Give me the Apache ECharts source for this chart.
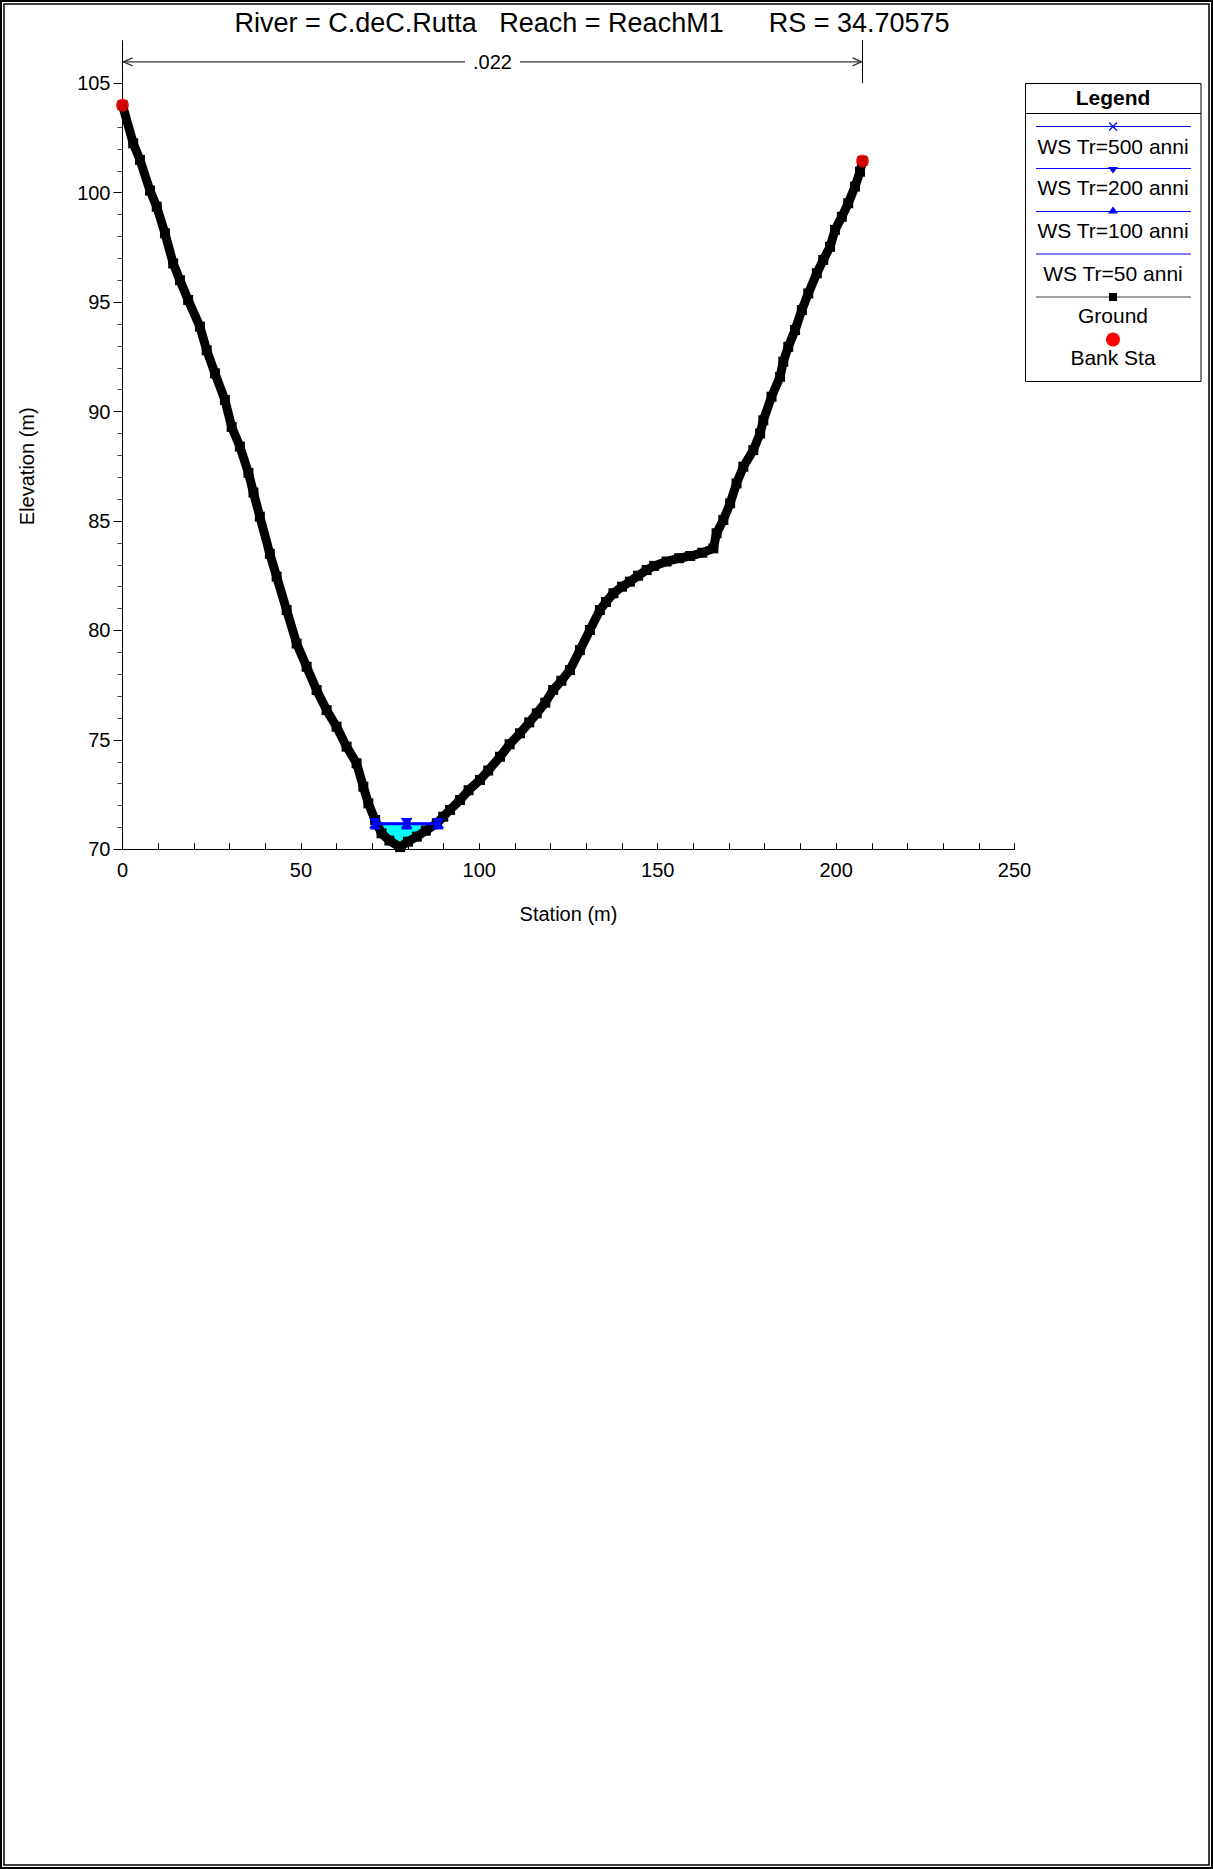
<!DOCTYPE html>
<html><head><meta charset="utf-8">
<script src="https://cdn.jsdelivr.net/npm/echarts@6/dist/echarts.min.js"></script>
<style>html,body{margin:0;padding:0;background:#fff}#c{width:1213px;height:1869px}</style>
</head><body><div id="c"></div>
<script>
// ---- data ----
const groundStation = [0,3.0,4.9,7.7,9.6,11.9,14.2,16.1,18.4,21.7,23.6,25.9,28.7,30.6,32.9,35.3,36.7,38.5,41.3,43.2,46.0,48.8,51.6,54.4,57.2,60.0,62.8,65.6,67.5,68.9,70.8,72.6,74.8,77.8,80.0,82.5,85.0,88.1,89.9,91.8,94.6,97.0,100.2,102.5,105.8,108.5,111.4,114.0,116.1,118.5,120.7,123.0,125.4,128.2,131.0,133.8,135.5,137.6,140.0,142.2,144.5,146.9,149.0,152.5,156.0,159.1,162.5,165.6,166.5,168.4,170.3,172.1,174.0,176.8,178.7,179.6,181.9,184.3,185.2,186.6,188.5,190.4,192.2,194.6,196.4,198.3,199.7,201.6,203.4,205.3,206.7,207.4];
const groundElev = [104.0,102.26,101.5,100.1,99.36,98.15,96.77,96.0,95.1,93.88,92.8,91.75,90.53,89.3,88.4,87.2,86.3,85.2,83.5,82.46,80.93,79.4,78.34,77.28,76.36,75.6,74.69,73.93,72.86,72.1,71.34,70.73,70.4,70.1,70.35,70.58,70.85,71.19,71.49,71.8,72.25,72.7,73.17,73.6,74.23,74.8,75.3,75.8,76.21,76.7,77.28,77.7,78.19,79.1,80.02,80.93,81.3,81.7,82.0,82.23,82.5,82.76,82.95,83.15,83.3,83.4,83.55,83.75,84.44,85.05,85.81,86.72,87.48,88.24,89.0,89.6,90.68,91.59,92.28,92.96,93.73,94.64,95.4,96.32,96.93,97.53,98.3,98.9,99.52,100.28,100.96,101.45];
const bankStation = [0, 207.4];
const bankElev = [104.0, 101.45];
const wsNames = ['WS Tr=500 anni','WS Tr=200 anni','WS Tr=100 anni','WS Tr=50 anni'];
const wsElev = [71.20, 71.18, 71.16, 71.13];
const wsLeft = [70.7, 70.8, 70.9, 71.0];
const wsRight = [88.6, 88.5, 88.4, 88.3];
const nValue = '.022';
const nStations = [0, 207.4];
const xTickLabels = [0, 50, 100, 150, 200, 250];
const yTickLabels = [70, 75, 80, 85, 90, 95, 100, 105];
const titleText = 'River = C.deC.Rutta   Reach = ReachM1      RS = 34.70575';

// ---- chart ----
const FONT = '"Liberation Sans", Arial, sans-serif';
const yMin = yTickLabels[0], yMax = yTickLabels[yTickLabels.length-1];
const chart = echarts.init(document.getElementById('c'), null, {renderer:'svg', width:1213, height:1869});

const crossPath = 'path://M0,1L1,0L5,4L9,0L10,1L6,5L10,9L9,10L5,6L1,10L0,9L4,5Z';
const wsSymbols = [crossPath, 'triangle', 'triangle', 'none'];
const wsRot = [0, 180, 0, 0];

const ground = groundStation.map((s,i)=>[s, groundElev[i]]);

const wsSeries = wsNames.map((n,i)=>({
  name: n, type:'line', z:5,
  data: [[wsLeft[i], wsElev[i]], [(wsLeft[i]+wsRight[i])/2, wsElev[i]], [wsRight[i], wsElev[i]]],
  symbol: wsSymbols[i], symbolRotate: wsRot[i], symbolSize: 11, showSymbol: true,
  lineStyle:{color:'#0000ff', width:1.5}, itemStyle:{color:'#0000ff'}, animation:false
}));

// cyan fill polygon
const fillSeries = {
  type:'custom', z:1, animation:false, data:[[wsLeft[0], wsElev[0]]],
  renderItem: function(params, api){
    const pts = [api.coord([wsLeft[0], wsElev[0]])];
    ground.forEach(g=>{ if(g[0]>wsLeft[0] && g[0]<wsRight[0]) pts.push(api.coord(g)); });
    pts.push(api.coord([wsRight[0], wsElev[0]]));
    return {type:'polygon', shape:{points:pts}, style:{fill:'#00ffff', stroke:null}};
  }
};

// manning's n bar above plot
const nSeries = {
  type:'custom', z:6, animation:false, data:[[nStations[0], nStations[1]]],
  renderItem: function(params, api){
    const a = api.coord([nStations[0], yMax]);
    const b = api.coord([nStations[1], yMax]);
    const yTop = a[1] - 43, yMid = a[1] - 21.5;
    const xm = (a[0]+b[0])/2;
    const ls = {stroke:'#000', lineWidth:1, fill:null};
    const as = {stroke:'#333', lineWidth:1.3, fill:null};
    return {type:'group', children:[
      {type:'line', shape:{x1:a[0], y1:a[1], x2:a[0], y2:yTop}, style:ls},
      {type:'line', shape:{x1:b[0], y1:a[1], x2:b[0], y2:yTop}, style:ls},
      {type:'line', shape:{x1:a[0], y1:yMid, x2:b[0], y2:yMid}, style:as},
      {type:'polyline', shape:{points:[[a[0]+10,yMid-4],[a[0]+1,yMid],[a[0]+10,yMid+4]]}, style:as},
      {type:'polyline', shape:{points:[[b[0]-10,yMid-4],[b[0]-1,yMid],[b[0]-10,yMid+4]]}, style:as},
      {type:'text', x:xm, y:yMid, style:{text:nValue, font:'20px '+FONT, fill:'#000', align:'center', verticalAlign:'middle', backgroundColor:'#fff', padding:[1,8]}}
    ]};
  }
};

// legend via graphic
const LX = 1113, LL = 1036, LR = 1191;
const lgFont = '21px ' + FONT;
const legendEls = [
  {type:'rect', shape:{x:1025.5, y:83.5, width:175.5, height:298}, style:{fill:'#fff', stroke:'#000', lineWidth:1}},
  {type:'text', x:LX, y:97, style:{text:'Legend', font:'bold 21px '+FONT, fill:'#000', align:'center', verticalAlign:'middle'}},
  {type:'line', shape:{x1:1025.5, y1:113.5, x2:1201, y2:113.5}, style:{stroke:'#000', lineWidth:1}},
  // 500
  {type:'line', shape:{x1:LL, y1:126.5, x2:LR, y2:126.5}, style:{stroke:'#0000ff', lineWidth:1}},
  {type:'line', shape:{x1:LX-4, y1:122.5, x2:LX+4, y2:130.5}, style:{stroke:'#0000ff', lineWidth:1.2}},
  {type:'line', shape:{x1:LX+4, y1:122.5, x2:LX-4, y2:130.5}, style:{stroke:'#0000ff', lineWidth:1.2}},
  {type:'text', x:LX, y:146, style:{text:wsNames[0], font:lgFont, fill:'#000', align:'center', verticalAlign:'middle'}},
  // 200
  {type:'line', shape:{x1:LL, y1:168.5, x2:LR, y2:168.5}, style:{stroke:'#0000ff', lineWidth:1}},
  {type:'polygon', shape:{points:[[LX-5,167],[LX+5,167],[LX,173.5]]}, style:{fill:'#0000ff'}},
  {type:'text', x:LX, y:187.5, style:{text:wsNames[1], font:lgFont, fill:'#000', align:'center', verticalAlign:'middle'}},
  // 100
  {type:'line', shape:{x1:LL, y1:211.5, x2:LR, y2:211.5}, style:{stroke:'#0000ff', lineWidth:1}},
  {type:'polygon', shape:{points:[[LX-5,213.5],[LX+5,213.5],[LX,206.5]]}, style:{fill:'#0000ff'}},
  {type:'text', x:LX, y:230.5, style:{text:wsNames[2], font:lgFont, fill:'#000', align:'center', verticalAlign:'middle'}},
  // 50
  {type:'line', shape:{x1:LL, y1:254, x2:LR, y2:254}, style:{stroke:'#0000ff', lineWidth:1}},
  {type:'text', x:LX, y:273, style:{text:wsNames[3], font:lgFont, fill:'#000', align:'center', verticalAlign:'middle'}},
  // ground
  {type:'line', shape:{x1:LL, y1:297, x2:LR, y2:297}, style:{stroke:'#444', lineWidth:1.2}},
  {type:'rect', shape:{x:LX-4, y:293, width:8, height:8}, style:{fill:'#000'}},
  {type:'text', x:LX, y:315, style:{text:'Ground', font:lgFont, fill:'#000', align:'center', verticalAlign:'middle'}},
  // bank
  {type:'circle', shape:{cx:LX, cy:339.5, r:7}, style:{fill:'#ff0000'}},
  {type:'text', x:LX, y:357, style:{text:'Bank Sta', font:lgFont, fill:'#000', align:'center', verticalAlign:'middle'}}
];

const option = {
  animation:false,
  backgroundColor:'#fff',
  textStyle:{fontFamily:FONT},
  grid:{left:122.5, top:83.3, width:892, height:766, containLabel:false},
  xAxis:{
    type:'value', min:0, max:250, interval:10,
    axisLine:{show:true, onZero:false, lineStyle:{color:'#000', width:1}},
    axisTick:{show:true, inside:true, length:6, lineStyle:{color:'#000'}},
    axisLabel:{fontSize:20, color:'#000', margin:11, fontFamily:FONT,
      formatter:v=> xTickLabels.indexOf(v)>=0 ? String(v) : ''},
    splitLine:{show:false},
    name:'Station (m)', nameLocation:'middle', nameGap:55,
    nameTextStyle:{fontSize:20, color:'#000', fontFamily:FONT}
  },
  yAxis:{
    type:'value', min:yMin, max:yMax, interval:5,
    axisLine:{show:true, onZero:false, lineStyle:{color:'#000', width:1}},
    axisTick:{show:true, inside:false, length:9, lineStyle:{color:'#000'}},
    minorTick:{show:true, splitNumber:5, length:5, lineStyle:{color:'#444'}},
    axisLabel:{fontSize:20, color:'#000', margin:12, fontFamily:FONT,
      formatter:v=> yTickLabels.indexOf(v)>=0 ? String(v) : ''},
    splitLine:{show:false}, minorSplitLine:{show:false},
    name:'Elevation (m)', nameLocation:'middle', nameGap:86, nameRotate:90,
    nameTextStyle:{fontSize:20, color:'#000', fontFamily:FONT}
  },
  series:[
    fillSeries,
    {name:'Ground', type:'line', z:3, data:ground, symbol:'rect', symbolSize:10, showSymbol:true,
     lineStyle:{color:'#000', width:9, join:'round', cap:'round'}, itemStyle:{color:'#000'}, animation:false},
    ...wsSeries,
    {name:'Bank Sta', type:'scatter', z:7, data:bankStation.map((s,i)=>[s, bankElev[i]]),
     symbol:'circle', symbolSize:13, itemStyle:{color:'#ff0000'}},
    nSeries
  ],
  graphic:{elements:[
    {type:'rect', shape:{x:1, y:1, width:1211, height:1867}, style:{fill:null, stroke:'#000', lineWidth:2}, z:100},
    {type:'rect', shape:{x:4, y:4, width:1205, height:1861}, style:{fill:null, stroke:'#000', lineWidth:1.5}, z:100},
    {type:'text', x:592, y:23, style:{text:titleText, font:'27px '+FONT, fill:'#000', align:'center', verticalAlign:'middle'}},
    {type:'group', children:legendEls}
  ]}
};
chart.setOption(option);
</script>
</body></html>
